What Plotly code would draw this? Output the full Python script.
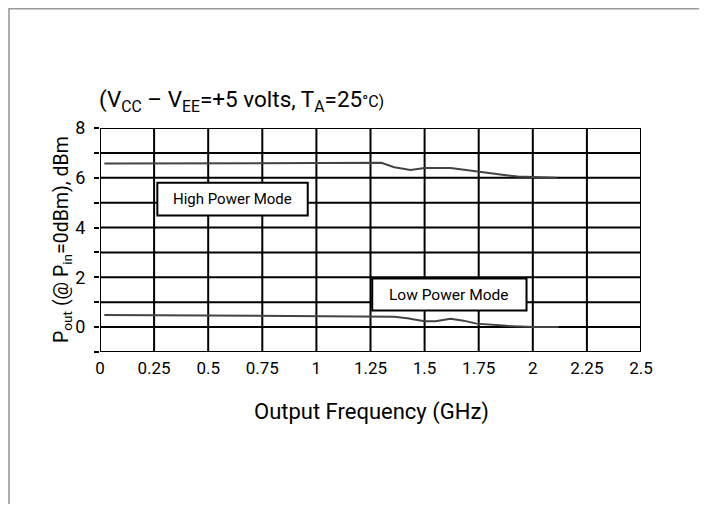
import plotly.graph_objects as go

# Data
freq_high = [0.02, 0.25, 0.5, 0.75, 1.0, 1.25, 1.30, 1.36, 1.435, 1.50, 1.62, 1.70, 1.76, 1.85, 1.93, 2.00, 2.11]
pout_high = [6.57, 6.58, 6.59, 6.6, 6.6, 6.6, 6.6, 6.42, 6.31, 6.39, 6.39, 6.3, 6.22, 6.13, 6.05, 6.02, 6.0]

freq_low = [0.02, 0.25, 0.5, 0.75, 1.0, 1.25, 1.36, 1.42, 1.50, 1.55, 1.62, 1.68, 1.74, 1.88, 2.00, 2.12]
pout_low = [0.49, 0.48, 0.46, 0.44, 0.42, 0.41, 0.42, 0.36, 0.24, 0.24, 0.34, 0.26, 0.14, 0.05, 0.0, 0.0]

x_ticks = [0, 0.25, 0.5, 0.75, 1, 1.25, 1.5, 1.75, 2, 2.25, 2.5]
x_tick_labels = ["0", "0.25", "0.5", "0.75", "1", "1.25", "1.5", "1.75", "2", "2.25", "2.5"]
y_ticks = [0, 2, 4, 6, 8]

FONT = "Roboto, Liberation Sans, sans-serif"
OFF = 8  # page body margin
W, H = 699, 496
L, T = 100 - OFF, 128 - OFF
R = W - (641 - OFF)
B = H - (352 - OFF)

fig = go.Figure()
for xs, ys in [(freq_high, pout_high), (freq_low, pout_low)]:
    fig.add_trace(go.Scatter(x=xs, y=ys, mode="lines",
                             line=dict(color="#444444", width=2),
                             showlegend=False, hoverinfo="skip"))

# grid lines
shapes = []
for v in [i * 0.25 for i in range(11)]:
    shapes.append(dict(type="line", xref="x", yref="y", x0=v, x1=v, y0=-1, y1=8,
                       line=dict(color="black", width=2), layer="below"))
for h in range(-1, 9):
    shapes.append(dict(type="line", xref="x", yref="y", x0=0, x1=2.5, y0=h, y1=h,
                       line=dict(color="black", width=2), layer="below"))

# label boxes
shapes.append(dict(type="rect", xref="x", yref="y", x0=0.265, x1=0.96, y0=4.48, y1=5.8,
                   fillcolor="white", line=dict(color="black", width=2), layer="above"))
shapes.append(dict(type="rect", xref="x", yref="y", x0=1.258, x1=1.971, y0=0.67, y1=1.95,
                   fillcolor="white", line=dict(color="black", width=2), layer="above"))

# page frame (window coordinates converted to paper)
pw, ph = W - L - R, H - T - B
def px(xw):
    return (xw - OFF - L) / pw
def py(yw):
    return (H - B - (yw - OFF)) / ph
top_y = py(OFF + 0.8)
shapes.append(dict(type="path", xref="paper", yref="paper",
                   path=f"M {px(9)} {py(520)} L {px(9)} {top_y} L {px(701.5)} {top_y} L {px(701.5)} {py(520)}",
                   line=dict(color="#9a9a9a", width=1.6)))

annotations = [
    dict(x=(0.265 + 0.96) / 2, y=(4.48 + 5.8) / 2, xref="x", yref="y", text="High Power Mode",
         showarrow=False, font=dict(family=FONT, size=15, color="black")),
    dict(x=(1.258 + 1.971) / 2, y=(0.67 + 1.95) / 2, xref="x", yref="y", text="Low Power Mode",
         showarrow=False, font=dict(family=FONT, size=15.5, color="black")),
    dict(x=px(97), y=py(101), xref="paper", yref="paper", xanchor="left", yanchor="middle",
         text="(V<sub>CC</sub> – V<sub>EE</sub>=+5 volts, T<sub>A</sub>=25<span style='font-size:16px'>°C)</span>",
         showarrow=False, font=dict(family=FONT, size=22.5, color="black")),
    dict(x=px(371), y=py(412), xref="paper", yref="paper", xanchor="center", yanchor="middle",
         text="Output Frequency (GHz)", showarrow=False,
         font=dict(family=FONT, size=22, color="black")),
    dict(x=px(62), y=py(240), xref="paper", yref="paper", xanchor="center", yanchor="middle",
         text="P<sub>out</sub> (@ P<sub>in</sub>=0dBm), dBm", textangle=-90, showarrow=False,
         font=dict(family=FONT, size=19.5, color="black")),
]

fig.update_layout(
    width=W, height=H,
    margin=dict(l=L, r=R, t=T, b=B),
    paper_bgcolor="white", plot_bgcolor="white",
    shapes=shapes, annotations=annotations,
    xaxis=dict(range=[0, 2.5], tickvals=x_ticks, ticktext=x_tick_labels,
               showgrid=False, zeroline=False, showline=False, ticks="",
               tickfont=dict(family=FONT, size=17, color="black"), ticklabelstandoff=4),
    yaxis=dict(range=[-1, 8], tickvals=list(range(-1, 9)),
               ticktext=["" if v % 2 or v < 0 else str(v) for v in range(-1, 9)],
               showgrid=False, zeroline=False, showline=False,
               ticks="outside", ticklen=5, tickwidth=2, tickcolor="black",
               ticklabelstandoff=5,
               tickfont=dict(family=FONT, size=18, color="black")),
)

fig.write_html("out.html")
